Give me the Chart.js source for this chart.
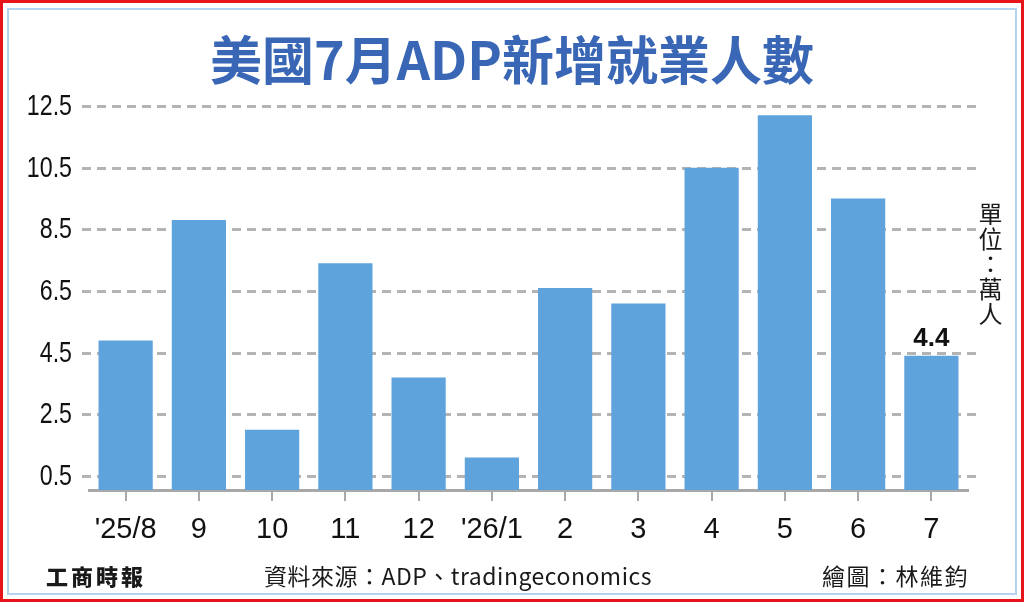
<!DOCTYPE html>
<html>
<head>
<meta charset="utf-8">
<script src="https://cdn.jsdelivr.net/npm/chart.js@4.4.1/dist/chart.umd.min.js"></script>
<style>
  html, body { margin: 0; padding: 0; background: #fff; }
  #wrap { position: relative; width: 1024px; height: 602px; overflow: hidden; }
  #chart { position: absolute; left: 0; top: 0; }
  .frame-red { position: absolute; left: 0; top: 0; width: 1018px; height: 596px; border: 3px solid #e8141c; }
  .frame-blue { position: absolute; left: 7px; top: 8px; width: 1006px; height: 583px; border: 2px solid #b3d3ee; }
  .txt { position: absolute; font-family: "Noto Sans CJK TC", "Noto Sans", sans-serif; color: #1a1a1a; white-space: nowrap; }
  #title { left: 0; width: 1024px; top: 22px; text-align: center; font-size: 52px; font-weight: 700; color: #3a67b5; line-height: 72px; }
  #unit { left: 978px; top: 202px; font-size: 24px; writing-mode: vertical-rl; line-height: 24px; letter-spacing: 1px; }
  #logo { left: 46px; top: 560px; font-size: 22px; font-weight: 900; letter-spacing: 3px; line-height: 30px; }
  #source { left: 264px; top: 560px; font-size: 23px; line-height: 30px; letter-spacing: 0.5px; }
  #author { left: 822px; top: 560px; font-size: 23px; line-height: 30px; letter-spacing: 1.5px; }
</style>
</head>
<body>
<div id="wrap">
  <canvas id="chart" width="1024" height="602"></canvas>
  <div class="frame-red"></div>
  <div class="frame-blue"></div>
  <div class="txt" id="title">美國7月ADP新增就業人數</div>
  <div class="txt" id="unit">單位：萬人</div>
  <div class="txt" id="logo">工商時報</div>
  <div class="txt" id="source">資料來源：ADP、tradingeconomics</div>
  <div class="txt" id="author">繪圖：林維鈞</div>
</div>
<script>
'use strict';

// data (unit: 10k jobs)
const months = ["'25/8", '9', '10', '11', '12', "'26/1", '2', '3', '4', '5', '6', '7'];
const jobs = [4.9, 8.8, 2.0, 7.4, 3.7, 1.1, 6.6, 6.1, 10.5, 12.2, 9.5, 4.4];
const yTicks = [0.5, 2.5, 4.5, 6.5, 8.5, 10.5, 12.5];
const labelIndex = 11;

// dashed horizontal lines a bit wider than the plot area, plus condensed y labels
const dashedGrid = {
  id: 'dashedGrid',
  beforeDatasetsDraw: function(chart){
    const ctx = chart.ctx;
    const y = chart.scales.y;
    ctx.save();
    ctx.strokeStyle = '#b4b4b4';
    ctx.lineWidth = 3;
    ctx.setLineDash([9, 6]);
    yTicks.forEach(function(v){
      const py = Math.round(y.getPixelForValue(v)) + 0.5;
      ctx.beginPath();
      ctx.moveTo(82, py);
      ctx.lineTo(977, py);
      ctx.stroke();
    });
    ctx.setLineDash([]);
    ctx.fillStyle = '#111';
    ctx.font = '29px "Liberation Sans", Arial, sans-serif';
    ctx.textAlign = 'right';
    ctx.textBaseline = 'middle';
    yTicks.forEach(function(v){
      ctx.save();
      ctx.translate(y.right - 17, y.getPixelForValue(v) + 1);
      ctx.scale(0.8, 1);
      ctx.fillText(v.toFixed(1), 0, 0);
      ctx.restore();
    });
    ctx.restore();
  }
};

// value over the last bar
const lastLabel = {
  id: 'lastLabel',
  afterDatasetsDraw: function(chart){
    const ctx = chart.ctx;
    const bar = chart.getDatasetMeta(0).data[labelIndex];
    ctx.save();
    ctx.font = 'bold 26px "Liberation Sans", Arial, sans-serif';
    ctx.fillStyle = '#111';
    ctx.textAlign = 'center';
    ctx.textBaseline = 'alphabetic';
    ctx.fillText(jobs[labelIndex].toFixed(1), bar.x, bar.y - 10);
    ctx.restore();
  }
};

Chart.defaults.font.family = '"Liberation Sans", Arial, sans-serif';

let chart = new Chart(document.getElementById('chart'), {
  type: 'bar',
  data: {
    labels: months,
    datasets: [{
      data: jobs,
      backgroundColor: '#5fa3dd',
      borderWidth: 0,
      barPercentage: 0.74,
      categoryPercentage: 1.0
    }]
  },
  options: {
    responsive: false,
    devicePixelRatio: 1,
    animation: false,
    layout: { padding: { left: 0, right: 56, top: 106, bottom: 0 } },
    plugins: { legend: { display: false }, tooltip: { enabled: false } },
    scales: {
      x: {
        afterFit: function(scale){ scale.height = 112; },
        grid: { display: true, drawOnChartArea: false, drawTicks: true, tickLength: 11, offset: false, color: '#a8a8a8', lineWidth: 2 },
        border: { display: true, color: '#a8a8a8', width: 3 },
        ticks: { color: '#111', padding: 12, font: { size: 29 }, maxRotation: 0, autoSkip: false }
      },
      y: {
        min: 0.05,
        max: 12.5,
        afterFit: function(scale){ scale.width = 89; },
        afterBuildTicks: function(scale){
          scale.ticks = yTicks.map(function(v){ return { value: v }; });
        },
        grid: { display: false },
        border: { display: false },
        ticks: { display: false }
      }
    }
  },
  plugins: [dashedGrid, lastLabel]
});
</script>
</body>
</html>
